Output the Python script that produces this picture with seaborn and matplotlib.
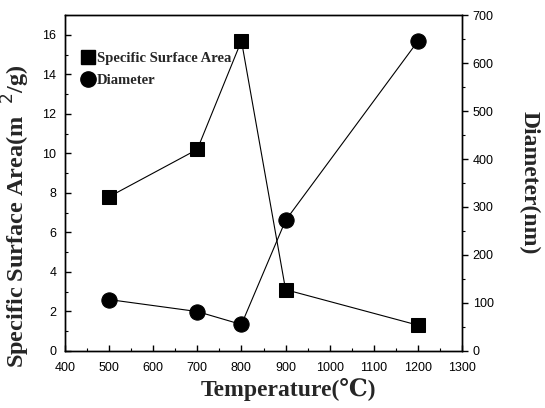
import matplotlib
matplotlib.use("Agg")
import matplotlib.pyplot as plt
import seaborn as sns
import pandas as pd
from matplotlib.ticker import MultipleLocator
from matplotlib.lines import Line2D

temperature = [500, 700, 800, 900, 1200]
surface_area = [7.8, 10.2, 15.7, 3.1, 1.3]
diameter = [107, 82, 55, 272, 646]

sns.set_theme(style="white")
plt.rcParams['font.family'] = ['Liberation Sans', 'DejaVu Sans']

df = pd.DataFrame({"T": temperature, "SSA": surface_area, "D": diameter})

fig = plt.figure(figsize=(5.45, 4.08), dpi=100)
ax = fig.add_axes([0.119, 0.140, 0.729, 0.823])
ax2 = ax.twinx()

sns.lineplot(data=df, x="T", y="SSA", ax=ax, color="black", marker="s",
             markersize=10, linewidth=0.8, markeredgecolor="black")
sns.lineplot(data=df, x="T", y="D", ax=ax2, color="black", marker="o",
             markersize=11, linewidth=0.8, markeredgecolor="black")

ax.set_xlim(400, 1300)
ax.set_ylim(0, 17)
ax2.set_ylim(0, 700)
ax.xaxis.set_major_locator(MultipleLocator(100))
ax.xaxis.set_minor_locator(MultipleLocator(50))
ax.yaxis.set_major_locator(MultipleLocator(2))
ax.yaxis.set_minor_locator(MultipleLocator(1))
ax2.yaxis.set_major_locator(MultipleLocator(100))
ax2.yaxis.set_minor_locator(MultipleLocator(50))

for a in (ax, ax2):
    for s in a.spines.values():
        s.set_color("black")
        s.set_linewidth(1.0)
ax.tick_params(axis="both", which="both", direction="in", colors="black",
               labelsize=9, bottom=True, left=True)
ax.tick_params(which="major", length=4, width=1)
ax.tick_params(which="minor", length=2, width=0.8)
ax.tick_params(axis="x", pad=8)
ax.tick_params(axis="y", pad=6)
ax2.tick_params(axis="y", which="both", direction="out", colors="black",
                labelsize=9, right=True)
ax2.tick_params(which="major", length=4, width=1)
ax2.tick_params(which="minor", length=2, width=0.8)

serif = ['Liberation Serif', 'DejaVu Serif']
ax.set_xlabel("Temperature(℃)", family=serif, fontweight="bold", fontsize=17)
ax.xaxis.set_label_coords(0.562, -0.08)
ax.set_ylabel("Specific Surface Area(m  $^2$/g)", family=serif, fontweight="bold", fontsize=17.5)
ax.yaxis.set_label_coords(-0.082, 0.40)
ax2.set_ylabel("Diameter(nm)", family=serif, fontweight="bold", fontsize=17, rotation=270, labelpad=33)
ax.grid(False)
ax2.grid(False)

handles = [Line2D([], [], color="black", marker="s", linestyle="none", markersize=10),
           Line2D([], [], color="black", marker="o", linestyle="none", markersize=11)]
leg = ax.legend(handles, ["Specific Surface Area", "Diameter"], loc="upper left",
                bbox_to_anchor=(0.01, 0.93), frameon=False, handlelength=0.8,
                handletextpad=0.2, labelspacing=0.6,
                prop={"family": serif, "weight": "bold", "size": 10.5})

fig.savefig("out.png", dpi=100)
